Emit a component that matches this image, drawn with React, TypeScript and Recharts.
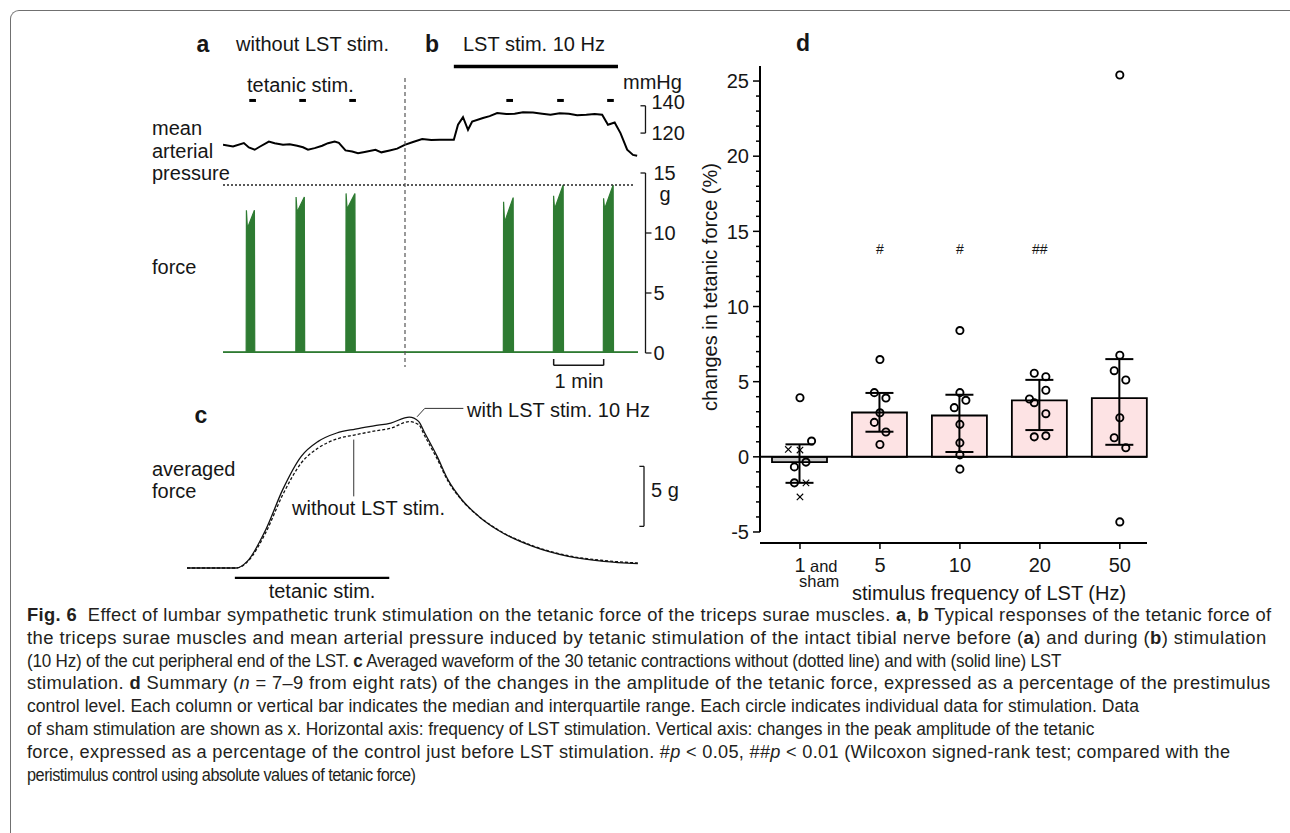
import React from 'react';
import {
  ComposedChart,
  Bar,
  Cell,
  ErrorBar,
  Scatter,
  XAxis,
  YAxis,
  ReferenceLine,
  LineChart,
  Line,
  AreaChart,
  Area,
} from 'recharts';

// ---------- panel a/b : raw traces (time in s) ----------
const mapTime = [0, 12, 25, 31, 38, 44, 55, 62, 72, 80, 89, 96, 102, 110, 119, 126, 134, 139, 147, 155, 162, 170, 183, 190, 200, 209, 218, 228, 239, 250, 260, 277, 282, 288, 294, 299, 312, 320, 329, 340, 350, 360, 372, 383, 393, 404, 415, 425, 436, 446, 455, 462, 470, 477, 485, 492, 497];
const mapValue = [111.4, 110.2, 112.7, 109.5, 107.8, 110, 113.8, 112.5, 111.4, 111.8, 110.7, 109.6, 107.8, 109, 110.7, 112.6, 113.8, 112.8, 107.3, 106.5, 105.3, 106.2, 107.8, 105.9, 107.3, 108.6, 111.4, 113.5, 115.6, 114.9, 115.1, 115.1, 126.1, 131.7, 122.4, 128.5, 131, 132.4, 134.7, 133.9, 134.1, 135.3, 135.1, 134.2, 133.4, 134.6, 134.1, 133, 133.4, 134, 133.4, 126.1, 127.8, 120, 107.8, 104, 103.4];

const forceTime = [0, 27.8, 28.1, 29.3, 37.7, 38.1, 87.4, 87.7, 88.9, 97.6, 98.0, 147.4, 147.7, 148.9, 158.3, 158.7, 336.4, 336.7, 337.9, 348.2, 348.6, 396.4, 396.7, 397.9, 408.2, 408.6, 456.4, 456.7, 457.9, 468.2, 468.6, 498];
const forceValue = [0.1, 0.1, 11.9, 10.4, 11.9, 0.1, 0.1, 13.0, 11.75, 13.0, 0.1, 0.1, 13.3, 12.0, 13.3, 0.1, 0.1, 12.6, 10.9, 12.95, 0.1, 0.1, 13.1, 12.0, 14.0, 0.1, 0.1, 12.9, 12.0, 14.0, 0.1, 0.1];

const tetanicStimTimes = [35.5, 95.5, 155.5, 344, 405, 465];
const lstStimWindow = [277, 474];
const mapTicks = [120, 140];
const forceTicks = [0, 5, 10, 15];

// ---------- panel c : averaged force ----------
const avgTime = [-0.31, 0.01, 0.08, 0.2, 0.31, 0.43, 0.54, 0.66, 0.78, 0.9, 1.01, 1.13, 1.19, 1.23, 1.31, 1.38, 1.47, 1.58, 1.7, 1.93, 2.16, 2.39, 2.61];
const avgWithLst = [0, 0, 0.55, 3.19, 6.53, 9.3, 10.55, 11.25, 11.58, 11.85, 12.08, 12.58, 12.22, 11.25, 9.3, 7.36, 5.69, 4.3, 3.19, 1.8, 0.97, 0.55, 0.36];
const avgWithoutLst = [0, 0, 0.5, 2.95, 6.1, 8.75, 10.0, 10.75, 11.1, 11.4, 11.65, 12.2, 11.95, 11.0, 9.1, 7.25, 5.65, 4.3, 3.22, 1.85, 1.02, 0.62, 0.42];

// ---------- panel d : summary ----------
const freqLabels = ['1', '5', '10', '20', '50'];
const medians = [-0.35, 2.95, 2.75, 3.75, 3.9];
const quart1 = [-1.73, 1.67, 0.32, 1.78, 0.8];
const quart3 = [0.83, 4.25, 4.13, 5.12, 6.5];
const sigMarks = ['', '#', '#', '##', ''];
const stimValues = [
  [3.93, 1.05, -0.35, -0.67, -1.73],
  [6.47, 4.27, 3.91, 2.93, 2.29, 1.65, 0.82],
  [8.4, 4.27, 3.76, 3.27, 2.16, 0.93, 0.13, -0.82],
  [5.56, 5.33, 4.43, 3.85, 3.6, 2.87, 1.33, 1.4],
  [25.4, 6.76, 5.73, 5.11, 2.6, 1.27, 0.6, -4.33],
];
const stimJitter = [
  [0, 0.145, 0.075, -0.07, -0.07],
  [0, -0.07, 0.075, 0, -0.07, 0.075, 0],
  [0, 0, 0.075, -0.07, 0, 0, 0, 0],
  [-0.07, 0.075, 0.075, -0.13, -0.07, 0.075, -0.07, 0.075],
  [0, 0, -0.07, 0.075, 0, -0.07, 0.075, 0],
];
const shamValues = [0.49, 0.45, -1.73, -2.67];
const shamJitter = [-0.146, 0, 0.075, 0];

const mapData = mapTime.map((t, i) => ({ t, v: mapValue[i] }));
const forceData = forceTime.map((t, i) => ({ t, v: forceValue[i] }));
const avgData = avgTime.map((t, i) => ({ t, withLst: avgWithLst[i], withoutLst: avgWithoutLst[i] }));
const summaryData = medians.map((m, i) => ({ x: i, median: m, iqr: [m - quart1[i], quart3[i] - m] }));
const stimPoints = stimValues.flatMap((g, i) => g.map((v, j) => ({ x: i + stimJitter[i][j], y: v })));
const shamPoints = shamValues.map((v, j) => ({ x: shamJitter[j], y: v }));
const sigPoints = sigMarks.map((s, i) => ({ x: i, y: 13.8, mark: s })).filter((d) => d.mark);

const FONT = '"Liberation Sans", Arial, sans-serif';
const INK = '#161616';

const Txt = ({ x, y, size = 20, bold = false, anchor = 'start', children }: any) => (
  <div
    style={{
      position: 'absolute',
      left: x,
      top: y,
      fontSize: size,
      fontWeight: bold ? 700 : 400,
      lineHeight: 1,
      whiteSpace: 'nowrap',
      color: INK,
      transform: `translate(${anchor === 'middle' ? '-50%' : anchor === 'end' ? '-100%' : '0'}, -50%)`,
    }}
  >
    {children}
  </div>
);

const MapTick = (p: any) => {
  const v = p.payload.value;
  return (
    <g>
      <line x1={p.x - 5} x2={p.x} y1={p.y} y2={p.y} stroke={INK} strokeWidth={1.3} />
      <text x={p.x + 6} y={p.y + (v === 140 ? -4 : 0)} dy="0.36em" fontSize={20} fill={INK} fontFamily={FONT}>{v}</text>
    </g>
  );
};

const ForceTick = (p: any) => {
  const v = p.payload.value;
  const top = v === 15;
  return (
    <g>
      <line x1={top ? p.x - 5 : p.x} x2={top ? p.x : p.x + 6} y1={p.y} y2={p.y} stroke={INK} strokeWidth={1.3} />
      <text x={p.x + 8} y={p.y} dy="0.36em" fontSize={20} fill={INK} fontFamily={FONT}>{v}</text>
      {top && <text x={p.x + 14} y={p.y + 21} dy="0.36em" fontSize={20} fill={INK} fontFamily={FONT}>g</text>}
    </g>
  );
};

const SumYTick = (p: any) => {
  const v = p.payload.value;
  const major = v % 5 === 0;
  return (
    <g>
      <line x1={p.x - (major ? 7 : 4)} x2={p.x} y1={p.y} y2={p.y} stroke="#000" strokeWidth={1.5} />
      {major && (
        <text x={p.x - 11} y={p.y} dy="0.36em" textAnchor="end" fontSize={20} fill={INK} fontFamily={FONT}>{v}</text>
      )}
    </g>
  );
};

const SumXTick = (p: any) => {
  const i = p.payload.value;
  return (
    <g fontFamily={FONT} fill={INK}>
      <line x1={p.x} x2={p.x} y1={p.y} y2={p.y + 6} stroke="#000" strokeWidth={1.5} />
      <text x={p.x} y={p.y + 29} textAnchor="middle" fontSize={20}>{freqLabels[i]}</text>
      {i === 0 && (
        <>
          <text x={p.x + 10} y={p.y + 29} fontSize={16.5}>and</text>
          <text x={p.x - 1} y={p.y + 44} fontSize={16.5}>sham</text>
        </>
      )}
    </g>
  );
};

const OpenCircle = (p: any) => <circle cx={p.cx} cy={p.cy} r={3.6} fill="none" stroke="#000" strokeWidth={1.9} />;
const XMark = (p: any) => (
  <g stroke="#000" strokeWidth={1.1}>
    <line x1={p.cx - 3.2} y1={p.cy - 3.2} x2={p.cx + 3.2} y2={p.cy + 3.2} />
    <line x1={p.cx - 3.2} y1={p.cy + 3.2} x2={p.cx + 3.2} y2={p.cy - 3.2} />
  </g>
);
const SigMark = (p: any) => (
  <text x={p.cx} y={p.cy} dy="0.35em" textAnchor="middle" fontSize={14} fill={INK} fontFamily={FONT}>{p.payload.mark}</text>
);

const captionLines: { w: number; parts: [string, string][] }[] = [
  { w: 1244, parts: [['Fig. 6', 'b'], ['  Effect of lumbar sympathetic trunk stimulation on the tetanic force of the triceps surae muscles. ', ''], ['a', 'b'], [', ', ''], ['b', 'b'], [' Typical responses of the tetanic force of', '']] },
  { w: 1240, parts: [['the triceps surae muscles and mean arterial pressure induced by tetanic stimulation of the intact tibial nerve before (', ''], ['a', 'b'], [') and during (', ''], ['b', 'b'], [') stimulation', '']] },
  { w: 1034, parts: [['(10 Hz) of the cut peripheral end of the LST. ', ''], ['c', 'b'], [' Averaged waveform of the 30 tetanic contractions without (dotted line) and with (solid line) LST', '']] },
  { w: 1244, parts: [['stimulation. ', ''], ['d', 'b'], [' Summary (', ''], ['n', 'i'], [' = 7–9 from eight rats) of the changes in the amplitude of the tetanic force, expressed as a percentage of the prestimulus', '']] },
  { w: 1112, parts: [['control level. Each column or vertical bar indicates the median and interquartile range. Each circle indicates individual data for stimulation. Data', '']] },
  { w: 1067, parts: [['of sham stimulation are shown as x. Horizontal axis: frequency of LST stimulation. Vertical axis: changes in the peak amplitude of the tetanic', '']] },
  { w: 1203, parts: [['force, expressed as a percentage of the control just before LST stimulation. #', ''], ['p', 'i'], [' < 0.05, ##', ''], ['p', 'i'], [' < 0.01 (Wilcoxon signed-rank test; compared with the', '']] },
  { w: 388, parts: [['peristimulus control using absolute values of tetanic force)', '']] },
];

// fit each caption line to the width it has in the figure: half by squeezing glyphs, half by letter spacing
const CaptionLine = ({ y, w, parts }: { y: number; w: number; parts: [string, string][] }) => {
  const ref = React.useRef<HTMLSpanElement>(null);
  const [fit, setFit] = React.useState({ sx: 1, ls: 0 });
  React.useLayoutEffect(() => {
    const el = ref.current;
    if (!el || el.offsetWidth <= 0) return;
    const natural = el.offsetWidth;
    const n = parts.reduce((a, [s]) => a + s.length, 0);
    const sx = 1 + (w / natural - 1) * 0.5;
    const ls = (w / sx - natural) / n;
    setFit({ sx, ls });
  }, [w]);
  return (
    <span
      ref={ref}
      style={{
        position: 'absolute',
        left: 27,
        top: y,
        fontSize: 17.5,
        lineHeight: 1,
        whiteSpace: 'pre',
        color: '#231f20',
        letterSpacing: fit.ls,
        fontFamily: '"Liberation Sans", sans-serif',
        transformOrigin: '0 50%',
        transform: `translateY(-50%) scaleX(${fit.sx})`,
      }}
    >
      {parts.map(([s, st], j) => (
        <span key={j} style={{ fontWeight: st === 'b' ? 700 : 400, fontStyle: st === 'i' ? 'italic' : 'normal' }}>{s}</span>
      ))}
    </span>
  );
};

export default function App() {
  return (
    <div style={{ position: 'absolute', left: 0, top: 0, width: 1290, height: 833, overflow: 'hidden', background: '#fff', fontFamily: FONT, color: INK }}>
      {/* frame */}
      <div style={{ position: 'absolute', left: 10, top: 10, width: 1400, height: 1000, borderTop: '1.3px solid #707070', borderLeft: '1.3px solid #707070', borderTopLeftRadius: 9 }} />

      {/* ---- panels a / b ---- */}
      <Txt x={203} y={44} size={23} bold anchor="middle">a</Txt>
      <Txt x={236} y={44}>without LST stim.</Txt>
      <Txt x={432} y={44} size={23} bold anchor="middle">b</Txt>
      <Txt x={463} y={44}>LST stim. 10 Hz</Txt>
      <Txt x={247} y={85}>tetanic stim.</Txt>
      <Txt x={623} y={82}>mmHg</Txt>
      <Txt x={152} y={128}>mean</Txt>
      <Txt x={152} y={151}>arterial</Txt>
      <Txt x={152} y={173}>pressure</Txt>
      <Txt x={152} y={267}>force</Txt>
      <Txt x={579} y={381} anchor="middle">1 min</Txt>

      <div style={{ position: 'absolute', left: 222.9, top: 58.2 }}>
        <LineChart width={472.5} height={102.4} data={mapData} margin={{ top: 0, right: 0, bottom: 0, left: 0 }}>
          <XAxis type="number" dataKey="t" domain={[0, 507]} hide />
          <YAxis
            orientation="right"
            width={50}
            domain={[100, 175]}
            ticks={mapTicks}
            interval={0}
            axisLine={false}
            tickLine={false}
            tickSize={0}
            tickMargin={0}
            tick={<MapTick />}
          />
          <ReferenceLine segment={[{ x: 507, y: 120 }, { x: 507, y: 140 }]} stroke={INK} strokeWidth={1.3} />
          <ReferenceLine segment={[{ x: lstStimWindow[0], y: 168.8 }, { x: lstStimWindow[1], y: 168.8 }]} stroke="#000" strokeWidth={3.5} />
          {tetanicStimTimes.map((t) => (
            <ReferenceLine key={t} segment={[{ x: t - 4, y: 143.9 }, { x: t + 4, y: 143.9 }]} stroke="#000" strokeWidth={3} />
          ))}
          <Line type="linear" dataKey="v" stroke="#000" strokeWidth={2} dot={false} isAnimationActive={false} />
        </LineChart>
      </div>

      <div style={{ position: 'absolute', left: 222.9, top: 148.7 }}>
        <AreaChart width={472.5} height={234} data={forceData} margin={{ top: 0, right: 0, bottom: 0, left: 0 }}>
          <XAxis type="number" dataKey="t" domain={[0, 507]} hide />
          <YAxis
            orientation="right"
            width={50}
            domain={[-2.5, 17]}
            ticks={forceTicks}
            interval={0}
            axisLine={false}
            tickLine={false}
            tickSize={0}
            tickMargin={0}
            tick={<ForceTick />}
          />
          <ReferenceLine segment={[{ x: 507, y: 0 }, { x: 507, y: 15 }]} stroke={INK} strokeWidth={1.3} />
          <ReferenceLine segment={[{ x: 0, y: 14 }, { x: 494, y: 14 }]} stroke="#222" strokeWidth={1.3} strokeDasharray="2 2" />
          <ReferenceLine segment={[{ x: 396.8, y: -1.03 }, { x: 456.8, y: -1.03 }]} stroke={INK} strokeWidth={1.5} />
          <ReferenceLine segment={[{ x: 396.8, y: -1.03 }, { x: 396.8, y: -0.5 }]} stroke={INK} strokeWidth={1.5} />
          <ReferenceLine segment={[{ x: 456.8, y: -1.03 }, { x: 456.8, y: -0.5 }]} stroke={INK} strokeWidth={1.5} />
          <Area type="linear" dataKey="v" baseValue={0} stroke="#2e7b32" strokeWidth={1.2} fill="#2e7b32" fillOpacity={1} isAnimationActive={false} />
        </AreaChart>
      </div>

      <svg style={{ position: 'absolute', left: 0, top: 0 }} width={1290} height={833}>
        <line x1={405} x2={405} y1={78} y2={367} stroke="#555" strokeWidth={1.2} strokeDasharray="4 3" />
      </svg>

      {/* ---- panel c ---- */}
      <Txt x={201} y={415} size={23} bold anchor="middle">c</Txt>
      <Txt x={152} y={469}>averaged</Txt>
      <Txt x={152} y={491}>force</Txt>
      <Txt x={467} y={410}>with LST stim. 10 Hz</Txt>
      <Txt x={292} y={508}>without LST stim.</Txt>
      <Txt x={651} y={490}>5 g</Txt>
      <Txt x={322} y={591} anchor="middle">tetanic stim.</Txt>

      <div style={{ position: 'absolute', left: 186.7, top: 406.3 }}>
        <LineChart width={467} height={180} data={avgData} margin={{ top: 0, right: 10, bottom: 0, left: 0 }}>
          <XAxis type="number" dataKey="t" domain={[-0.31, 2.65]} hide />
          <YAxis domain={[-1.5, 13.5]} hide />
          <ReferenceLine segment={[{ x: 0, y: -0.83 }, { x: 1.0, y: -0.83 }]} stroke="#000" strokeWidth={2.2} />
          <ReferenceLine segment={[{ x: 2.65, y: 3.47 }, { x: 2.65, y: 8.47 }]} stroke={INK} strokeWidth={1.3} />
          <ReferenceLine segment={[{ x: 2.62, y: 8.47 }, { x: 2.65, y: 8.47 }]} stroke={INK} strokeWidth={1.3} />
          <ReferenceLine segment={[{ x: 2.62, y: 3.47 }, { x: 2.65, y: 3.47 }]} stroke={INK} strokeWidth={1.3} />
          <ReferenceLine segment={[{ x: 1.18, y: 12.6 }, { x: 1.23, y: 13.3 }]} stroke="#333" strokeWidth={1} />
          <ReferenceLine segment={[{ x: 1.23, y: 13.3 }, { x: 1.48, y: 13.3 }]} stroke="#333" strokeWidth={1} />
          <ReferenceLine segment={[{ x: 0.77, y: 10.7 }, { x: 0.77, y: 5.97 }]} stroke="#333" strokeWidth={1} />
          <Line type="monotone" dataKey="withoutLst" stroke="#111" strokeWidth={1.3} strokeDasharray="3 2" dot={false} isAnimationActive={false} />
          <Line type="monotone" dataKey="withLst" stroke="#111" strokeWidth={1.3} dot={false} isAnimationActive={false} />
        </LineChart>
      </div>

      {/* ---- panel d ---- */}
      <Txt x={803} y={43} size={23} bold anchor="middle">d</Txt>
      <div style={{ position: 'absolute', left: 710, top: 287, fontSize: 20, whiteSpace: 'nowrap', lineHeight: 1, transform: 'translate(-50%, -50%) rotate(-90deg)' }}>
        changes in tetanic force (%)
      </div>
      <Txt x={989} y={593} anchor="middle">stimulus frequency of LST (Hz)</Txt>

      <div style={{ position: 'absolute', left: 690, top: 40 }}>
        <ComposedChart width={467} height={563} data={summaryData} margin={{ top: 26, right: 10, bottom: 0, left: 0 }}>
          <XAxis
            type="number"
            dataKey="x"
            domain={[-0.5, 4.34]}
            ticks={[0, 1, 2, 3, 4]}
            interval={0}
            height={60}
            tickSize={0}
            tickMargin={0}
            tickLine={false}
            axisLine={{ stroke: '#000', strokeWidth: 2 }}
            tick={<SumXTick />}
          />
          <XAxis xAxisId="pts" type="number" dataKey="x" domain={[-0.5, 4.34]} hide />
          <YAxis
            width={70}
            domain={[-5.733, 26]}
            ticks={Array.from({ length: 31 }, (_, i) => i - 5)}
            interval={0}
            tickSize={0}
            tickMargin={0}
            tickLine={false}
            axisLine={false}
            tick={<SumYTick />}
          />
          <Bar dataKey="median" barSize={55} stroke="#000" strokeWidth={1.8} isAnimationActive={false}>
            {summaryData.map((d, i) => (
              <Cell key={i} fill={i === 0 ? '#c8c8c8' : '#fde3e4'} />
            ))}
            <ErrorBar dataKey="iqr" direction="y" width={14} stroke="#000" strokeWidth={2} />
          </Bar>
          <ReferenceLine y={0} stroke="#000" strokeWidth={2} />
          <ReferenceLine segment={[{ x: -0.5, y: -5 }, { x: -0.5, y: 26 }]} stroke="#000" strokeWidth={2} />
          <Scatter xAxisId="pts" data={stimPoints} dataKey="y" shape={<OpenCircle />} isAnimationActive={false} />
          <Scatter xAxisId="pts" data={shamPoints} dataKey="y" shape={<XMark />} isAnimationActive={false} />
          <Scatter xAxisId="pts" data={sigPoints} dataKey="y" shape={<SigMark />} isAnimationActive={false} />
        </ComposedChart>
      </div>

      {/* ---- caption ---- */}
      {captionLines.map((ln, i) => (
        <CaptionLine key={i} y={616 + i * 22.8} w={ln.w} parts={ln.parts} />
      ))}
    </div>
  );
}
